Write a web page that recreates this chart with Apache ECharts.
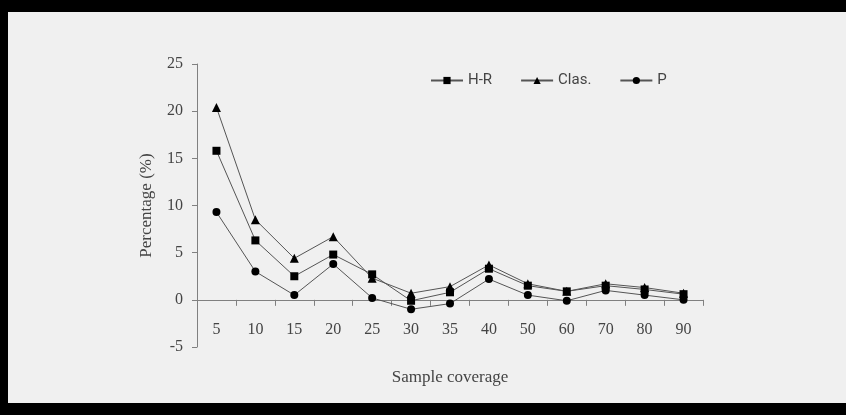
<!DOCTYPE html>
<html>
<head>
<meta charset="utf-8">
<script src="https://cdn.jsdelivr.net/npm/echarts@6/dist/echarts.min.js"></script>
<style>
html,body{margin:0;padding:0;background:#f0f0f0;}
#wrap{position:relative;width:846px;height:415px;overflow:hidden;}
#chart{position:absolute;left:0;top:0;width:846px;height:415px;}
.b{position:absolute;background:#000;pointer-events:none;}
</style>
</head>
<body>
<div id="wrap">
<div id="chart"></div>
<div class="b" style="left:0;top:0;width:846px;height:12px;"></div>
<div class="b" style="left:0;top:403px;width:846px;height:12px;"></div>
<div class="b" style="left:0;top:0;width:8px;height:415px;"></div>
</div>
<script>
const categories = ['5','10','15','20','25','30','35','40','50','60','70','80','90'];
const hrValues   = [15.8, 6.3, 2.5, 4.8, 2.7, -0.1, 0.8, 3.3, 1.5, 0.9, 1.5, 1.1, 0.6];
const clasValues = [20.4, 8.5, 4.4, 6.7, 2.3, 0.7, 1.4, 3.7, 1.7, 0.9, 1.7, 1.3, 0.7];
const pValues    = [9.3, 3.0, 0.5, 3.8, 0.2, -1.0, -0.4, 2.2, 0.5, -0.1, 1.0, 0.5, 0.0];
const seriesNames = ['H-R', 'Clas.', 'P'];

const chart = echarts.init(document.getElementById('chart'), null, {renderer: 'canvas'});
const axisColor = '#808080';
const serif = '"Liberation Serif", "DejaVu Serif", serif';
function mk(name, data, symbol, size) {
  return {
    name: name, type: 'line', data: data, symbol: symbol, symbolSize: size,
    lineStyle: {color: '#555', width: 1},
    itemStyle: {color: '#000'},
    animation: false
  };
}
chart.setOption({
  backgroundColor: '#f0f0f0',
  animation: false,
  legend: {
    data: seriesNames,
    left: 425, top: 68,
    itemWidth: 32, itemHeight: 9, itemGap: 28,
    textStyle: {fontFamily: 'Roboto', fontSize: 15, color: '#444'}
  },
  grid: {left: 197, right: 143, top: 64, bottom: 68, containLabel: false, outerBoundsMode: 'none'},
  xAxis: {
    type: 'category', data: categories, boundaryGap: true,
    name: 'Sample coverage', nameLocation: 'middle', nameGap: 22,
    nameTextStyle: {fontFamily: serif, fontSize: 17, color: '#444'},
    axisLine: {onZero: true, lineStyle: {color: axisColor, width: 1}},
    axisTick: {show: true, inside: false, length: 6, alignWithLabel: false, lineStyle: {color: axisColor}},
    axisLabel: {fontFamily: serif, fontSize: 16, color: '#444', margin: -25, interval: 0},
    splitLine: {show: false}
  },
  yAxis: {
    type: 'value', min: -5, max: 25, interval: 5,
    name: 'Percentage (%)', nameLocation: 'middle', nameGap: 42, nameRotate: 90,
    nameTextStyle: {fontFamily: serif, fontSize: 17, color: '#444'},
    axisLine: {show: true, onZero: false, lineStyle: {color: axisColor, width: 1}},
    axisTick: {show: true, length: 5, lineStyle: {color: axisColor}},
    axisLabel: {fontFamily: serif, fontSize: 16, color: '#444', margin: 14},
    splitLine: {show: false}
  },
  series: [
    mk(seriesNames[0], hrValues, 'rect', 8),
    mk(seriesNames[1], clasValues, 'triangle', 9),
    mk(seriesNames[2], pValues, 'circle', 8)
  ]
});
</script>
</body>
</html>
